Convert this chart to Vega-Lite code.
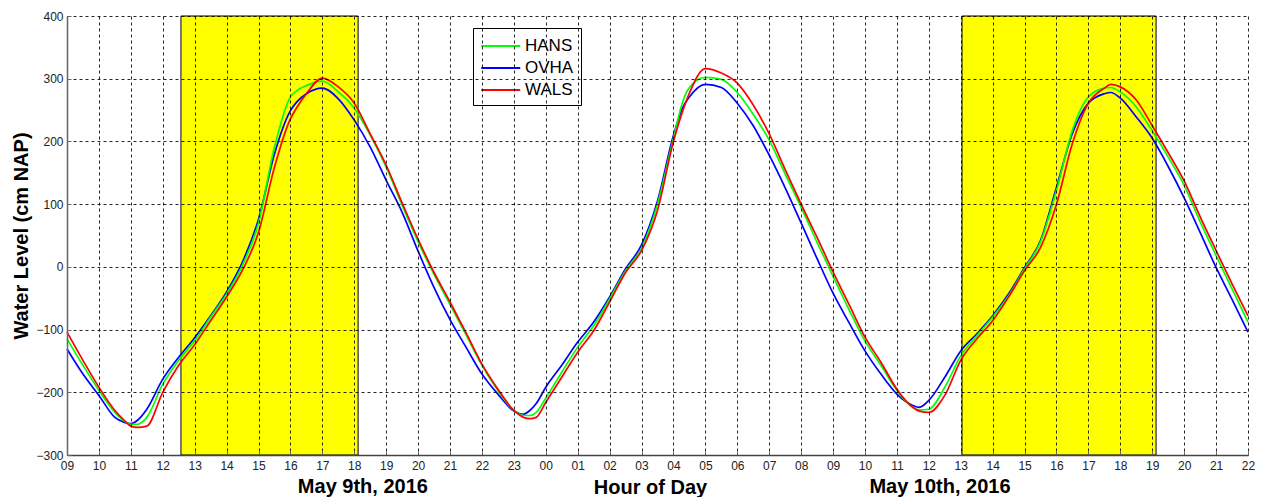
{
"$schema":"https://vega.github.io/schema/vega-lite/v6.json",
"width":1181,"height":439,
"autosize":{"type":"none"},
"padding":{"left":67,"top":16,"right":13,"bottom":42},
"background":"white",
"config":{"view":{"stroke":null},"font":"Liberation Sans"},
"datasets":{
"daylight":[{"start":12.57,"end":18.12},{"start":37.04,"end":43.12}],
"dates":[{"hour":18.27,"label":"May 9th, 2016"},{"hour":36.35,"label":"May 10th, 2016"}],
"levels":[
{"hour":9,"station":"OVHA","level":-131},{"hour":9.5,"station":"OVHA","level":-171},{"hour":10,"station":"OVHA","level":-205},{"hour":10.5,"station":"OVHA","level":-240},{"hour":10.8,"station":"OVHA","level":-248},{"hour":11,"station":"OVHA","level":-250},{"hour":11.2,"station":"OVHA","level":-245},{"hour":11.5,"station":"OVHA","level":-227},{"hour":12,"station":"OVHA","level":-179},{"hour":12.5,"station":"OVHA","level":-144},{"hour":13,"station":"OVHA","level":-113},{"hour":13.5,"station":"OVHA","level":-78},{"hour":14,"station":"OVHA","level":-40},{"hour":14.5,"station":"OVHA","level":8},{"hour":15,"station":"OVHA","level":76},{"hour":15.5,"station":"OVHA","level":180},{"hour":16,"station":"OVHA","level":249},{"hour":16.2,"station":"OVHA","level":263},{"hour":16.5,"station":"OVHA","level":276},{"hour":17,"station":"OVHA","level":285},{"hour":17.5,"station":"OVHA","level":268},{"hour":18,"station":"OVHA","level":234},{"hour":18.5,"station":"OVHA","level":191},{"hour":19,"station":"OVHA","level":138},{"hour":19.5,"station":"OVHA","level":87},{"hour":20,"station":"OVHA","level":25},{"hour":20.5,"station":"OVHA","level":-33},{"hour":21,"station":"OVHA","level":-84},{"hour":21.5,"station":"OVHA","level":-128},{"hour":22,"station":"OVHA","level":-171},{"hour":22.5,"station":"OVHA","level":-203},{"hour":23,"station":"OVHA","level":-230},{"hour":23.3,"station":"OVHA","level":-235},{"hour":23.5,"station":"OVHA","level":-229},{"hour":23.7,"station":"OVHA","level":-218},{"hour":24,"station":"OVHA","level":-192},{"hour":24.5,"station":"OVHA","level":-157},{"hour":25,"station":"OVHA","level":-120},{"hour":25.5,"station":"OVHA","level":-88},{"hour":26,"station":"OVHA","level":-48},{"hour":26.5,"station":"OVHA","level":-3},{"hour":27,"station":"OVHA","level":35},{"hour":27.5,"station":"OVHA","level":105},{"hour":28,"station":"OVHA","level":210},{"hour":28.3,"station":"OVHA","level":255},{"hour":28.5,"station":"OVHA","level":271},{"hour":29,"station":"OVHA","level":291},{"hour":29.5,"station":"OVHA","level":286},{"hour":30,"station":"OVHA","level":261},{"hour":30.5,"station":"OVHA","level":225},{"hour":31,"station":"OVHA","level":178},{"hour":31.5,"station":"OVHA","level":126},{"hour":32,"station":"OVHA","level":70},{"hour":32.5,"station":"OVHA","level":13},{"hour":33,"station":"OVHA","level":-42},{"hour":33.5,"station":"OVHA","level":-89},{"hour":34,"station":"OVHA","level":-134},{"hour":34.5,"station":"OVHA","level":-171},{"hour":35,"station":"OVHA","level":-203},{"hour":35.5,"station":"OVHA","level":-221},{"hour":35.7,"station":"OVHA","level":-224},{"hour":36,"station":"OVHA","level":-213},{"hour":36.5,"station":"OVHA","level":-176},{"hour":37,"station":"OVHA","level":-134},{"hour":37.5,"station":"OVHA","level":-107},{"hour":38,"station":"OVHA","level":-78},{"hour":38.5,"station":"OVHA","level":-43},{"hour":39,"station":"OVHA","level":-1},{"hour":39.5,"station":"OVHA","level":42},{"hour":40,"station":"OVHA","level":127},{"hour":40.5,"station":"OVHA","level":213},{"hour":41,"station":"OVHA","level":261},{"hour":41.5,"station":"OVHA","level":276},{"hour":41.7,"station":"OVHA","level":278},{"hour":42,"station":"OVHA","level":269},{"hour":42.5,"station":"OVHA","level":239},{"hour":43,"station":"OVHA","level":205},{"hour":43.5,"station":"OVHA","level":160},{"hour":44,"station":"OVHA","level":110},{"hour":44.5,"station":"OVHA","level":55},{"hour":45,"station":"OVHA","level":-1},{"hour":45.5,"station":"OVHA","level":-52},{"hour":46,"station":"OVHA","level":-104},
{"hour":9,"station":"HANS","level":-115},{"hour":9.5,"station":"HANS","level":-157},{"hour":10,"station":"HANS","level":-197},{"hour":10.5,"station":"HANS","level":-232},{"hour":10.8,"station":"HANS","level":-246},{"hour":11,"station":"HANS","level":-251},{"hour":11.2,"station":"HANS","level":-251},{"hour":11.5,"station":"HANS","level":-240},{"hour":12,"station":"HANS","level":-187},{"hour":12.5,"station":"HANS","level":-149},{"hour":13,"station":"HANS","level":-118},{"hour":13.5,"station":"HANS","level":-80},{"hour":14,"station":"HANS","level":-43},{"hour":14.5,"station":"HANS","level":3},{"hour":15,"station":"HANS","level":70},{"hour":15.5,"station":"HANS","level":191},{"hour":16,"station":"HANS","level":271},{"hour":16.2,"station":"HANS","level":281},{"hour":16.5,"station":"HANS","level":289},{"hour":17,"station":"HANS","level":296},{"hour":17.5,"station":"HANS","level":279},{"hour":18,"station":"HANS","level":253},{"hour":18.5,"station":"HANS","level":210},{"hour":19,"station":"HANS","level":159},{"hour":19.5,"station":"HANS","level":98},{"hour":20,"station":"HANS","level":40},{"hour":20.5,"station":"HANS","level":-12},{"hour":21,"station":"HANS","level":-60},{"hour":21.5,"station":"HANS","level":-108},{"hour":22,"station":"HANS","level":-157},{"hour":22.5,"station":"HANS","level":-197},{"hour":23,"station":"HANS","level":-229},{"hour":23.3,"station":"HANS","level":-237},{"hour":23.5,"station":"HANS","level":-237},{"hour":23.7,"station":"HANS","level":-232},{"hour":24,"station":"HANS","level":-209},{"hour":24.5,"station":"HANS","level":-168},{"hour":25,"station":"HANS","level":-128},{"hour":25.5,"station":"HANS","level":-94},{"hour":26,"station":"HANS","level":-51},{"hour":26.5,"station":"HANS","level":-6},{"hour":27,"station":"HANS","level":30},{"hour":27.5,"station":"HANS","level":100},{"hour":28,"station":"HANS","level":205},{"hour":28.3,"station":"HANS","level":265},{"hour":28.5,"station":"HANS","level":286},{"hour":29,"station":"HANS","level":302},{"hour":29.5,"station":"HANS","level":299},{"hour":30,"station":"HANS","level":278},{"hour":30.5,"station":"HANS","level":243},{"hour":31,"station":"HANS","level":202},{"hour":31.5,"station":"HANS","level":148},{"hour":32,"station":"HANS","level":95},{"hour":32.5,"station":"HANS","level":39},{"hour":33,"station":"HANS","level":-15},{"hour":33.5,"station":"HANS","level":-68},{"hour":34,"station":"HANS","level":-118},{"hour":34.5,"station":"HANS","level":-157},{"hour":35,"station":"HANS","level":-197},{"hour":35.5,"station":"HANS","level":-224},{"hour":35.7,"station":"HANS","level":-228},{"hour":36,"station":"HANS","level":-227},{"hour":36.5,"station":"HANS","level":-192},{"hour":37,"station":"HANS","level":-142},{"hour":37.5,"station":"HANS","level":-110},{"hour":38,"station":"HANS","level":-80},{"hour":38.5,"station":"HANS","level":-46},{"hour":39,"station":"HANS","level":-3},{"hour":39.5,"station":"HANS","level":40},{"hour":40,"station":"HANS","level":122},{"hour":40.5,"station":"HANS","level":218},{"hour":41,"station":"HANS","level":271},{"hour":41.5,"station":"HANS","level":285},{"hour":41.7,"station":"HANS","level":286},{"hour":42,"station":"HANS","level":279},{"hour":42.5,"station":"HANS","level":255},{"hour":43,"station":"HANS","level":217},{"hour":43.5,"station":"HANS","level":175},{"hour":44,"station":"HANS","level":130},{"hour":44.5,"station":"HANS","level":72},{"hour":45,"station":"HANS","level":18},{"hour":45.5,"station":"HANS","level":-35},{"hour":46,"station":"HANS","level":-88},
{"hour":9,"station":"WALS","level":-104},{"hour":9.5,"station":"WALS","level":-149},{"hour":10,"station":"WALS","level":-192},{"hour":10.5,"station":"WALS","level":-229},{"hour":10.8,"station":"WALS","level":-245},{"hour":11,"station":"WALS","level":-254},{"hour":11.2,"station":"WALS","level":-256},{"hour":11.5,"station":"WALS","level":-254},{"hour":12,"station":"WALS","level":-200},{"hour":12.5,"station":"WALS","level":-157},{"hour":13,"station":"WALS","level":-124},{"hour":13.5,"station":"WALS","level":-86},{"hour":14,"station":"WALS","level":-48},{"hour":14.5,"station":"WALS","level":-5},{"hour":15,"station":"WALS","level":55},{"hour":15.5,"station":"WALS","level":159},{"hour":16,"station":"WALS","level":236},{"hour":16.2,"station":"WALS","level":254},{"hour":16.5,"station":"WALS","level":276},{"hour":17,"station":"WALS","level":301},{"hour":17.5,"station":"WALS","level":287},{"hour":18,"station":"WALS","level":261},{"hour":18.5,"station":"WALS","level":212},{"hour":19,"station":"WALS","level":162},{"hour":19.5,"station":"WALS","level":102},{"hour":20,"station":"WALS","level":44},{"hour":20.5,"station":"WALS","level":-9},{"hour":21,"station":"WALS","level":-56},{"hour":21.5,"station":"WALS","level":-105},{"hour":22,"station":"WALS","level":-155},{"hour":22.5,"station":"WALS","level":-195},{"hour":23,"station":"WALS","level":-229},{"hour":23.3,"station":"WALS","level":-240},{"hour":23.5,"station":"WALS","level":-242},{"hour":23.7,"station":"WALS","level":-240},{"hour":24,"station":"WALS","level":-216},{"hour":24.5,"station":"WALS","level":-176},{"hour":25,"station":"WALS","level":-136},{"hour":25.5,"station":"WALS","level":-102},{"hour":26,"station":"WALS","level":-56},{"hour":26.5,"station":"WALS","level":-9},{"hour":27,"station":"WALS","level":26},{"hour":27.5,"station":"WALS","level":90},{"hour":28,"station":"WALS","level":200},{"hour":28.3,"station":"WALS","level":250},{"hour":28.5,"station":"WALS","level":277},{"hour":29,"station":"WALS","level":316},{"hour":29.5,"station":"WALS","level":309},{"hour":30,"station":"WALS","level":293},{"hour":30.5,"station":"WALS","level":258},{"hour":31,"station":"WALS","level":212},{"hour":31.5,"station":"WALS","level":155},{"hour":32,"station":"WALS","level":100},{"hour":32.5,"station":"WALS","level":47},{"hour":33,"station":"WALS","level":-8},{"hour":33.5,"station":"WALS","level":-60},{"hour":34,"station":"WALS","level":-112},{"hour":34.5,"station":"WALS","level":-152},{"hour":35,"station":"WALS","level":-195},{"hour":35.5,"station":"WALS","level":-224},{"hour":35.7,"station":"WALS","level":-230},{"hour":36,"station":"WALS","level":-232},{"hour":36.5,"station":"WALS","level":-205},{"hour":37,"station":"WALS","level":-149},{"hour":37.5,"station":"WALS","level":-115},{"hour":38,"station":"WALS","level":-86},{"hour":38.5,"station":"WALS","level":-48},{"hour":39,"station":"WALS","level":-6},{"hour":39.5,"station":"WALS","level":31},{"hour":40,"station":"WALS","level":100},{"hour":40.5,"station":"WALS","level":197},{"hour":41,"station":"WALS","level":261},{"hour":41.5,"station":"WALS","level":285},{"hour":41.7,"station":"WALS","level":291},{"hour":42,"station":"WALS","level":287},{"hour":42.5,"station":"WALS","level":266},{"hour":43,"station":"WALS","level":225},{"hour":43.5,"station":"WALS","level":182},{"hour":44,"station":"WALS","level":137},{"hour":44.5,"station":"WALS","level":80},{"hour":45,"station":"WALS","level":26},{"hour":45.5,"station":"WALS","level":-27},{"hour":46,"station":"WALS","level":-78}
]},
"layer":[
{"data":{"name":"daylight"},
 "mark":{"type":"rect","fill":"#FFFF00","stroke":"black","strokeWidth":1},
 "encoding":{
  "x":{"field":"start","type":"quantitative","scale":{"domain":[9,46],"nice":false,"zero":false},
   "axis":{"values":[9,10,11,12,13,14,15,16,17,18,19,20,21,22,23,24,25,26,27,28,29,30,31,32,33,34,35,36,37,38,39,40,41,42,43,44,45,46],"tickCount":50,
    "labelExpr":"(datum.value % 24 < 10 ? '0' : '') + (datum.value % 24)",
    "labelFlush":false,"labelOverlap":false,"labelFontSize":12,"labelColor":"#222","labelPadding":9,
    "tickSize":-4,"tickColor":"#666","domainColor":"#444","domainWidth":1.5,
    "grid":true,"gridColor":"black","gridDash":[3,3],"gridOpacity":0.85,"zindex":1,
    "title":"Hour of Day","titleFontSize":20,"titleFontWeight":"bold","titleColor":"black","titleX":583,"titleY":38,"titleBaseline":"alphabetic"}},
  "x2":{"field":"end"},
  "y":{"datum":400,"type":"quantitative","scale":{"domain":[-300,400],"nice":false,"zero":false},
   "axis":{"values":[-300,-200,-100,0,100,200,300,400],"tickCount":10,
    "labelFontSize":12,"labelColor":"#222","labelPadding":8,
    "tickSize":-4,"tickColor":"#666","domainColor":"#666","domainWidth":1.5,
    "grid":true,"gridColor":"black","gridDash":[3,3],"gridOpacity":0.85,"zindex":1,
    "title":"Water Level (cm NAP)","titleFontSize":20,"titleFontWeight":"bold","titleColor":"black","titleX":-46,"titleY":219.5,"titleBaseline":"middle","titleAngle":-90}},
  "y2":{"datum":-300}
 }},
{"data":{"name":"levels"},
 "mark":{"type":"line","strokeWidth":1.7,"interpolate":"monotone"},
 "encoding":{
  "x":{"field":"hour","type":"quantitative"},
  "y":{"field":"level","type":"quantitative"},
  "color":{"field":"station","type":"nominal",
   "scale":{"domain":["HANS","OVHA","WALS"],"range":["#00FF00","#0000FF","#FF0000"]},
   "legend":{"title":null,"orient":"none","legendX":406,"legendY":12,"strokeColor":"black","fillColor":"white","padding":7,
    "labelFontSize":17,"labelColor":"black","labelFont":"Liberation Sans","symbolType":"M-1,0H3","symbolSize":380,"symbolStrokeWidth":2,"rowPadding":3,"labelOffset":23}}
 }},
{"data":{"name":"dates"},
 "mark":{"type":"text","fontSize":20,"fontWeight":"bold","color":"black","baseline":"alphabetic","align":"center"},
 "encoding":{
  "x":{"field":"hour","type":"quantitative"},
  "y":{"datum":-360,"type":"quantitative"},
  "text":{"field":"label"}
 }}
]
}
